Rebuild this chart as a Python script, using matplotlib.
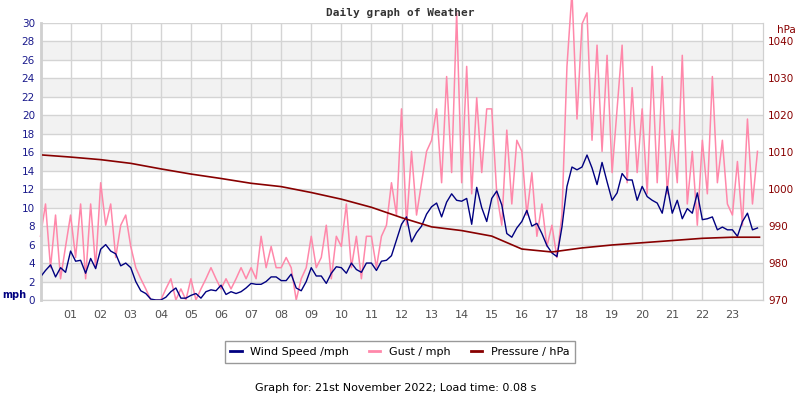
import matplotlib.pyplot as plt
from matplotlib.lines import Line2D
import numpy as np

# 10-minute samples, one row per hour
wind = [
    2.5, 3.2, 3.8, 2.5, 3.5, 3.0,
    5.3, 4.2, 4.3, 2.9, 4.5, 3.4,
    5.5, 6.0, 5.3, 5.0, 3.7, 4.0,
    3.5, 2.0, 1.0, 0.7, 0.1, 0.0,
    0.0, 0.3, 0.9, 1.3, 0.2, 0.2,
    0.5, 0.7, 0.2, 0.9, 1.1, 1.0,
    1.6, 0.6, 0.9, 0.7, 0.9, 1.3,
    1.8, 1.7, 1.7, 2.0, 2.5, 2.5,
    2.1, 2.1, 2.8, 1.3, 1.0, 2.0,
    3.5, 2.6, 2.6, 1.8, 2.9, 3.6,
    3.5, 2.9, 4.0, 3.3, 3.0, 4.0,
    4.0, 3.2, 4.2, 4.3, 4.8, 6.5,
    8.2, 9.0, 6.3, 7.3, 8.0, 9.3,
    10.1, 10.5, 9.0, 10.6, 11.5, 10.8,
    10.7, 11.0, 8.2, 12.2, 10.0, 8.5,
    11.0, 11.8, 10.3, 7.2, 6.8, 7.8,
    8.5, 9.7, 8.0, 8.3, 7.2, 5.9,
    5.1, 4.7, 7.9, 12.3, 14.4, 14.1,
    14.4, 15.7, 14.3, 12.5, 14.9, 12.8,
    10.8, 11.6, 13.7, 13.0, 13.0, 10.8,
    12.3, 11.2, 10.8, 10.5, 9.4, 12.3,
    9.4, 10.8, 8.8, 9.9, 9.4, 11.6,
    8.7, 8.8, 9.0, 7.6, 7.9, 7.6,
    7.6, 6.9, 8.5, 9.4, 7.6, 7.8,
]
gust = [
    6.9, 10.4, 3.5, 9.2, 2.3, 5.8,
    9.2, 4.6, 10.4, 2.3, 10.4, 3.5,
    12.7, 8.1, 10.4, 4.6, 8.1, 9.2,
    5.8, 3.5, 2.3, 1.2, 0.0, 0.0,
    0.0, 1.2, 2.3, 0.0, 1.2, 0.0,
    2.3, 0.0, 1.2, 2.3, 3.5, 2.3,
    1.2, 2.3, 1.2, 2.3, 3.5, 2.3,
    3.5, 2.3, 6.9, 3.5, 5.8, 3.5,
    3.5, 4.6, 3.5, 0.0, 2.3, 3.5,
    6.9, 3.5, 4.6, 8.1, 2.3, 6.9,
    5.8, 10.4, 3.5, 6.9, 2.3, 6.9,
    6.9, 3.5, 6.9, 8.1, 12.7, 9.2,
    20.7, 8.1, 16.1, 9.2, 12.7, 16.1,
    17.3, 20.7, 12.7, 24.2, 13.8, 31.1,
    12.7, 25.3, 11.5, 21.9, 13.8, 20.7,
    20.7, 11.5, 8.1, 18.4, 10.4, 17.3,
    16.1, 9.2, 13.8, 6.9, 10.4, 5.8,
    8.1, 4.6, 9.2, 25.3, 33.4, 19.6,
    29.9, 31.1, 17.3, 27.6, 16.1, 26.5,
    13.8, 20.7, 27.6, 12.7, 23.0, 13.8,
    20.7, 11.5, 25.3, 12.7, 24.2, 11.5,
    18.4, 12.7, 26.5, 10.4, 16.1, 8.1,
    17.3, 11.5, 24.2, 12.7, 17.3, 10.4,
    9.2, 15.0, 8.1, 19.6, 10.4, 16.1,
]
p_hours = list(range(24)) + [23.9]
pressure = [1009.3, 1008.7, 1008.0, 1007.0, 1005.5, 1004.1, 1002.9, 1001.6,
            1000.7, 999.1, 997.3, 995.1, 992.3, 989.8, 988.8, 987.3,
            983.8, 983.0, 984.1, 984.9, 985.5, 986.1, 986.7, 987.0, 987.0]
hour_labels = ['%02d' % h for h in range(1, 24)]

t = np.arange(len(wind)) / 6

fig = plt.figure(figsize=(8, 4), dpi=100)
ax = fig.add_axes([40.5 / 800, 0.25, 722 / 800, 277 / 400])
ax2 = ax.twinx()

for lo in range(2, 30, 4):
    ax.axhspan(lo, lo + 2, color='#f2f2f2', zorder=0, lw=0)
ax.set_axisbelow(True)
ax.grid(True, color='#d4d4d4', lw=1)

ax.plot(t, gust, color='#ff88aa', lw=1.1, clip_on=False, zorder=2)
ax.plot(t, wind, color='#000080', lw=1, zorder=3)
ax2.plot(p_hours, pressure, color='#880000', lw=1.2)

ax.set_xlim(0, 24)
ax.set_ylim(0, 30)
ax.set_xticks(range(1, 24))
ax.set_xticklabels(hour_labels)
ax.set_yticks(range(0, 31, 2))
ax2.set_ylim(970, 1045)
ax2.set_yticks(range(970, 1041, 10))

ax.tick_params(axis='x', length=0, labelsize=8, labelcolor='#505050', pad=7)
ax.tick_params(axis='y', length=0, labelsize=7.5, labelcolor='#1a1a8c', pad=4)
ax2.tick_params(axis='y', length=0, labelsize=7.5, labelcolor='#880000', pad=4)
for a in (ax, ax2):
    for s in a.spines.values():
        s.set_color('#d0d0d0')
    a.spines['top'].set_visible(False)
ax.spines['left'].set_linewidth(2)

fig.text(2 / 800, 1 - 295 / 400, 'mph', color='#000080', fontsize=7,
         fontweight='bold', va='center')
fig.text(786 / 800, 1 - 30 / 400, 'hPa', color='#880000', fontsize=7.5,
         ha='center', va='center')
fig.text(0.5, 1 - 13 / 400, 'Daily graph of Weather', family='DejaVu Sans Mono',
         fontweight='bold', fontsize=8, color='#333333', ha='center', va='center')

handles = [Line2D([], [], color='#000080', lw=2),
           Line2D([], [], color='#ff88aa', lw=2),
           Line2D([], [], color='#880000', lw=2)]
leg = fig.legend(handles, ['Wind Speed /mph', 'Gust / mph', 'Pressure / hPa'],
                 loc='center', bbox_to_anchor=(0.5, 1 - 352 / 400), ncol=3,
                 fontsize=8, frameon=True, fancybox=False, handlelength=1.0,
                 columnspacing=1.8, borderpad=0.5)
leg.get_frame().set_edgecolor('#808080')
leg.get_frame().set_linewidth(1)

fig.text(0.495, 1 - 388 / 400, 'Graph for: 21st November 2022; Load time: 0.08 s',
         fontsize=8, ha='center', va='center')

fig.savefig('out.png', dpi=100)
